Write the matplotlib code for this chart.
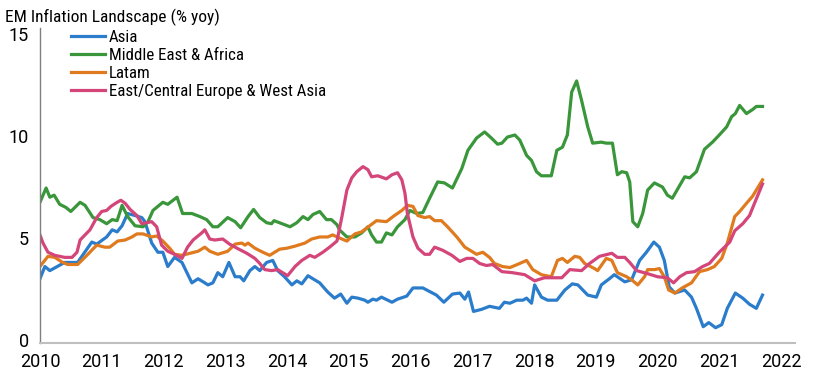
import matplotlib.pyplot as plt

plt.rcParams['font.family'] = ['Roboto Condensed', 'Lato', 'DejaVu Sans']

# values, (decimal year, % yoy)
asia_t = [2010.00, 2010.08, 2010.16, 2010.40, 2010.61, 2010.84, 2010.92, 2011.08, 2011.17, 2011.25,
          2011.33, 2011.42, 2011.54, 2011.65, 2011.70, 2011.81, 2011.91, 2011.99, 2012.07, 2012.18,
          2012.30, 2012.46, 2012.56, 2012.67, 2012.72, 2012.80, 2012.88, 2012.96, 2013.06, 2013.16,
          2013.24, 2013.30, 2013.40, 2013.48, 2013.56, 2013.67, 2013.77, 2013.85, 2013.96, 2014.08,
          2014.16, 2014.24, 2014.34, 2014.42, 2014.53, 2014.66, 2014.77, 2014.87, 2014.97, 2015.05,
          2015.15, 2015.26, 2015.31, 2015.39, 2015.45, 2015.53, 2015.70, 2015.79, 2015.94, 2016.04,
          2016.20, 2016.42, 2016.54, 2016.68, 2016.80, 2016.88, 2016.94, 2017.02, 2017.15, 2017.28,
          2017.44, 2017.52, 2017.61, 2017.72, 2017.82, 2017.88, 2017.96, 2018.01, 2018.12, 2018.22,
          2018.37, 2018.50, 2018.62, 2018.71, 2018.87, 2019.01, 2019.09, 2019.22, 2019.30, 2019.47,
          2019.58, 2019.71, 2019.82, 2019.94, 2020.03, 2020.11, 2020.19, 2020.28, 2020.44, 2020.55,
          2020.63, 2020.74, 2020.83, 2020.94, 2021.04, 2021.13, 2021.26, 2021.38, 2021.49, 2021.60,
          2021.70]
asia = [3.0, 3.6, 3.4, 3.8, 3.8, 4.8, 4.7, 5.05, 5.4, 5.3,
        5.6, 6.2, 6.1, 6.0, 5.8, 4.75, 4.3, 4.3, 3.6, 4.05,
        3.8, 2.8, 3.0, 2.8, 2.7, 2.8, 3.3, 3.1, 3.8, 3.1,
        3.1, 2.9, 3.4, 3.6, 3.4, 3.8, 3.9, 3.4, 3.1, 2.7,
        2.9, 2.75, 3.15, 3.0, 2.8, 2.35, 2.05, 2.25, 1.8, 2.1,
        2.05, 1.95, 1.85, 2.0, 1.95, 2.1, 1.85, 2.0, 2.15, 2.55,
        2.55, 2.2, 1.85, 2.25, 2.3, 2.0, 2.35, 1.4, 1.5, 1.65,
        1.55, 1.85, 1.8, 1.95, 1.95, 2.05, 1.8, 2.7, 2.1, 1.95,
        1.95, 2.45, 2.75, 2.7, 2.2, 2.1, 2.7, 3.0, 3.2, 2.85,
        2.95, 3.9, 4.3, 4.8, 4.55, 3.9, 2.6, 2.3, 2.45, 2.1,
        1.55, 0.65, 0.85, 0.6, 0.75, 1.55, 2.3, 2.05, 1.75, 1.55,
        2.2]

mea_t = [2010.00, 2010.10, 2010.16, 2010.23, 2010.32, 2010.42, 2010.50, 2010.65, 2010.73, 2010.86,
         2010.97, 2011.08, 2011.17, 2011.25, 2011.33, 2011.42, 2011.54, 2011.67, 2011.75, 2011.83,
         2011.99, 2012.07, 2012.22, 2012.31, 2012.46, 2012.59, 2012.70, 2012.80, 2012.88, 2013.04,
         2013.16, 2013.25, 2013.37, 2013.46, 2013.56, 2013.67, 2013.75, 2013.79, 2013.92, 2014.05,
         2014.16, 2014.26, 2014.34, 2014.42, 2014.53, 2014.64, 2014.72, 2014.81, 2014.85, 2014.97,
         2015.10, 2015.21, 2015.31, 2015.37, 2015.45, 2015.53, 2015.61, 2015.70, 2015.79, 2015.91,
         2015.99, 2016.10, 2016.20, 2016.31, 2016.44, 2016.55, 2016.68, 2016.83, 2016.93, 2017.07,
         2017.20, 2017.31, 2017.41, 2017.48, 2017.57, 2017.69, 2017.77, 2017.88, 2017.96, 2018.04,
         2018.12, 2018.28, 2018.37, 2018.46, 2018.54, 2018.61, 2018.69, 2018.77, 2018.87, 2018.95,
         2019.09, 2019.17, 2019.27, 2019.35, 2019.42, 2019.50, 2019.55, 2019.60, 2019.68, 2019.76,
         2019.84, 2019.95, 2020.08, 2020.16, 2020.24, 2020.44, 2020.52, 2020.63, 2020.76, 2020.89,
         2021.00, 2021.12, 2021.20, 2021.26, 2021.33, 2021.44, 2021.54, 2021.60, 2021.70]
mea = [6.75, 7.45, 7.0, 7.1, 6.65, 6.5, 6.3, 6.75, 6.6, 6.0,
       5.9, 5.7, 5.9, 5.85, 6.6, 6.05, 5.6, 5.55, 5.8, 6.35,
       6.75, 6.65, 7.0, 6.2, 6.2, 6.05, 5.9, 5.55, 5.55, 6.0,
       5.8, 5.5, 6.05, 6.4, 6.0, 5.75, 5.7, 5.85, 5.7, 5.55,
       5.75, 6.05, 5.9, 6.15, 6.3, 5.9, 5.9, 5.65, 5.4, 5.05,
       5.05, 5.25, 5.55, 5.15, 4.8, 4.8, 5.25, 5.15, 5.55, 5.9,
       6.35, 6.2, 6.25, 6.95, 7.75, 7.7, 7.45, 8.4, 9.3, 9.9,
       10.2, 9.9, 9.6, 9.65, 9.95, 10.05, 9.8, 9.05, 8.8, 8.25,
       8.05, 8.05, 9.3, 9.45, 10.05, 12.15, 12.7, 11.75, 10.45, 9.65,
       9.7, 9.65, 9.65, 8.1, 8.25, 8.2, 7.75, 5.8, 5.55, 6.2,
       7.35, 7.7, 7.5, 7.1, 6.95, 8.0, 7.95, 8.25, 9.35, 9.7,
       10.05, 10.45, 10.95, 11.1, 11.5, 11.1, 11.3, 11.45, 11.45]

latam_t = [2010.00, 2010.13, 2010.24, 2010.37, 2010.45, 2010.61, 2010.76, 2010.92, 2011.05, 2011.13,
           2011.26, 2011.38, 2011.49, 2011.57, 2011.67, 2011.81, 2011.89, 2011.99, 2012.10, 2012.18,
           2012.30, 2012.43, 2012.56, 2012.67, 2012.75, 2012.88, 2013.04, 2013.16, 2013.27, 2013.32,
           2013.37, 2013.48, 2013.61, 2013.72, 2013.88, 2014.00, 2014.13, 2014.29, 2014.40, 2014.53,
           2014.66, 2014.74, 2014.89, 2014.97, 2015.10, 2015.21, 2015.34, 2015.45, 2015.61, 2015.74,
           2015.86, 2015.95, 2016.04, 2016.12, 2016.23, 2016.31, 2016.39, 2016.50, 2016.60, 2016.75,
           2016.88, 2016.99, 2017.07, 2017.17, 2017.28, 2017.36, 2017.49, 2017.61, 2017.73, 2017.88,
           2017.98, 2018.12, 2018.28, 2018.38, 2018.46, 2018.54, 2018.66, 2018.74, 2018.82, 2018.98,
           2019.03, 2019.17, 2019.26, 2019.35, 2019.50, 2019.58, 2019.68, 2019.79, 2019.84, 2019.95,
           2020.03, 2020.11, 2020.18, 2020.28, 2020.40, 2020.55, 2020.68, 2020.81, 2020.92, 2021.04,
           2021.13, 2021.25, 2021.33, 2021.44, 2021.54, 2021.70]
latam = [3.6, 4.1, 4.05, 3.8, 3.7, 3.7, 4.15, 4.65, 4.55, 4.55,
         4.85, 4.9, 5.05, 5.2, 5.2, 5.05, 5.1, 4.85, 4.5, 4.2,
         4.15, 4.25, 4.35, 4.55, 4.35, 4.2, 4.35, 4.7, 4.75, 4.65,
         4.75, 4.5, 4.3, 4.15, 4.45, 4.5, 4.6, 4.75, 4.95, 5.05,
         5.05, 5.15, 4.95, 4.85, 5.2, 5.3, 5.6, 5.85, 5.8, 6.1,
         6.35, 6.6, 6.55, 6.1, 6.0, 6.05, 5.85, 5.85, 5.55, 5.05,
         4.55, 4.35, 4.2, 4.3, 4.05, 3.75, 3.6, 3.55, 3.7, 3.9,
         3.45, 3.2, 3.1, 3.9, 4.0, 3.8, 4.1, 4.05, 3.75, 3.5,
         3.4, 4.0, 3.9, 3.3, 3.1, 2.95, 2.7, 3.1, 3.45, 3.45,
         3.5, 3.1, 2.45, 2.3, 2.55, 2.8, 3.35, 3.45, 3.6, 4.0,
         4.75, 6.05, 6.3, 6.7, 7.05, 7.85]

ceewa_t = [2010.00, 2010.05, 2010.13, 2010.24, 2010.40, 2010.52, 2010.60, 2010.65, 2010.73, 2010.81,
           2010.92, 2011.00, 2011.08, 2011.15, 2011.25, 2011.31, 2011.38, 2011.46, 2011.57, 2011.65,
           2011.73, 2011.81, 2011.89, 2011.97, 2012.07, 2012.18, 2012.30, 2012.39, 2012.48, 2012.62,
           2012.67, 2012.75, 2012.83, 2012.96, 2013.07, 2013.19, 2013.35, 2013.48, 2013.56, 2013.64,
           2013.75, 2013.85, 2013.93, 2014.01, 2014.13, 2014.24, 2014.37, 2014.45, 2014.58, 2014.69,
           2014.81, 2014.89, 2014.97, 2015.05, 2015.13, 2015.23, 2015.31, 2015.37, 2015.47, 2015.61,
           2015.70, 2015.79, 2015.86, 2015.91, 2015.95, 2016.04, 2016.12, 2016.23, 2016.31, 2016.39,
           2016.52, 2016.67, 2016.80, 2016.91, 2017.01, 2017.12, 2017.23, 2017.33, 2017.48, 2017.65,
           2017.85, 2018.01, 2018.17, 2018.45, 2018.58, 2018.77, 2018.90, 2019.06, 2019.26, 2019.35,
           2019.47, 2019.55, 2019.66, 2019.84, 2020.00, 2020.16, 2020.26, 2020.36, 2020.47, 2020.60,
           2020.73, 2020.84, 2021.00, 2021.17, 2021.25, 2021.38, 2021.49, 2021.57, 2021.70]
ceewa = [5.15, 4.75, 4.3, 4.15, 4.05, 4.05, 4.3, 4.9, 5.15, 5.4,
         6.0, 6.3, 6.35, 6.55, 6.75, 6.85, 6.7, 6.4, 6.1, 5.7,
         5.75, 5.8, 5.55, 4.65, 4.35, 4.2, 4.0, 4.55, 4.9, 5.25,
         5.4, 4.95, 4.9, 4.95, 4.7, 4.5, 4.25, 4.0, 3.75, 3.45,
         3.4, 3.45, 3.3, 3.15, 3.6, 3.9, 4.15, 4.05, 4.3, 4.55,
         4.85, 6.05, 7.35, 7.95, 8.25, 8.5, 8.35, 8.0, 8.05, 7.9,
         8.1, 8.2, 7.85, 7.2, 6.2, 5.05, 4.5, 4.2, 4.2, 4.55,
         4.4, 4.15, 3.85, 4.0, 4.0, 3.75, 3.65, 3.7, 3.35, 3.3,
         3.2, 2.9, 3.05, 3.05, 3.45, 3.4, 3.75, 4.1, 4.25, 4.05,
         4.05, 3.8, 3.4, 3.25, 3.1, 3.05, 2.8, 3.1, 3.3, 3.35,
         3.6, 3.75, 4.3, 4.8, 5.35, 5.7, 6.1, 6.7, 7.65]

labels = ['Asia', 'Middle East & Africa', 'Latam', 'East/Central Europe & West Asia']
colors = ['#2b7dcb', '#3a963a', '#e07a1e', '#d4457a']
years = list(range(2010, 2023))
yticks = [0, 5, 10, 15]

fig = plt.figure(figsize=(8.15, 3.81), dpi=100)
ax = fig.add_axes([0.049, 0.0997, 0.926, 0.827])

series = [(asia_t, asia), (mea_t, mea), (latam_t, latam), (ceewa_t, ceewa)]
for (t, v), lab, c in zip(series, labels, colors):
    ax.plot(t, v, color=c, lw=2.3, label=lab, solid_joinstyle='round')

ax.set_xlim(2010.0, 2022.22)
ax.set_ylim(-0.15, 15.3)
ax.set_xticks(years)
ax.set_xticklabels([str(y) for y in years])
ax.set_yticks(yticks)
ax.tick_params(axis='both', length=0, labelsize=13)
ax.tick_params(axis='y', pad=8)
ax.tick_params(axis='x', pad=7)
for lbl in ax.get_xticklabels() + ax.get_yticklabels():
    lbl.set_family(['Roboto', 'DejaVu Sans'])

for s in ['top', 'right']:
    ax.spines[s].set_visible(False)
ax.spines['left'].set_color('#808080')
ax.spines['bottom'].set_color('#bfbfbf')
ax.spines['left'].set_linewidth(1.0)
ax.spines['bottom'].set_linewidth(1.5)

ax.legend(loc='upper left', bbox_to_anchor=(0.032, 1.016), frameon=False,
          fontsize=12.2, handlelength=2.0, handletextpad=0.25, labelspacing=0.18,
          borderaxespad=0)

fig.text(0.006, 0.955, 'EM Inflation Landscape (% yoy)', fontsize=12.5, va='center', ha='left')

fig.savefig('out.png', dpi=100)
